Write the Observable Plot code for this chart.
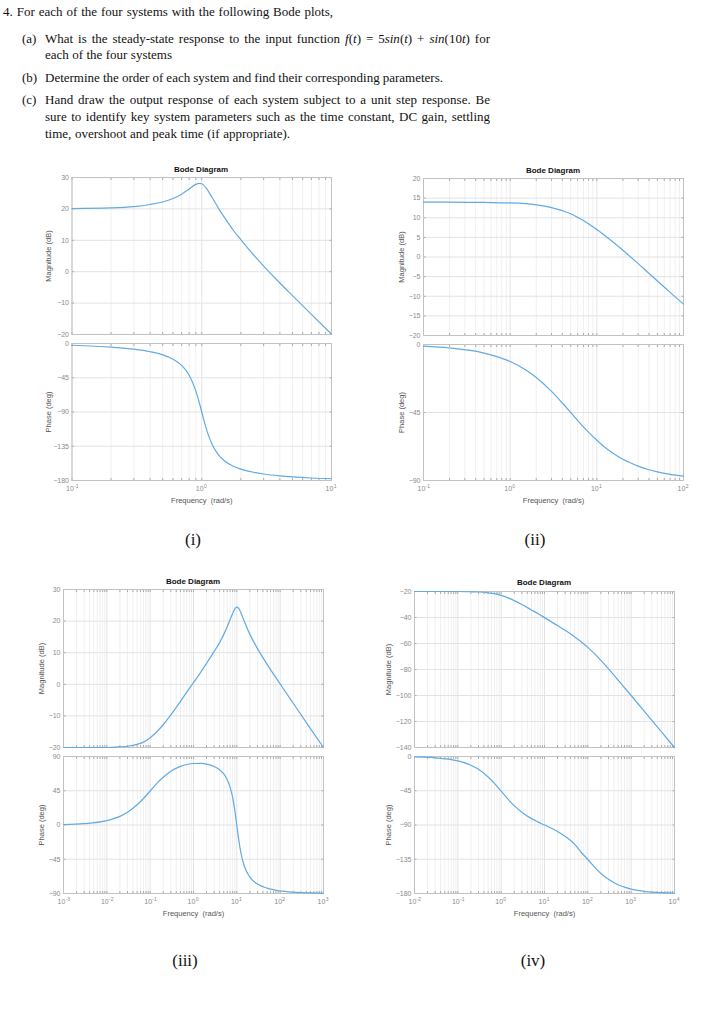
<!DOCTYPE html>
<html><head><meta charset="utf-8">
<script src="https://cdn.jsdelivr.net/npm/d3@7"></script>
<script src="https://cdn.jsdelivr.net/npm/@observablehq/plot@0.6"></script>
<style>
html,body{margin:0;padding:0;background:#fff;}
#page{position:relative;width:706px;height:1024px;overflow:hidden;font-family:"Liberation Serif","Times New Roman",serif;color:#111;}
.ln{position:absolute;font-size:13px;line-height:16px;height:16px;white-space:nowrap;}
.lab{position:absolute;font-size:13px;line-height:16px;height:16px;white-space:nowrap;}
.sub{position:absolute;font-size:17px;line-height:20px;transform:translate(-50%,-50%);white-space:nowrap;}
.ttl{position:absolute;font-family:"Liberation Sans",Arial,sans-serif;font-weight:bold;font-size:8px;line-height:9px;transform:translate(-50%,-50%);color:#111;white-space:nowrap;}
.plot{position:absolute;}
</style></head>
<body><div id="page"></div>
<script>
// ---------- data ----------
const w1   = [0.1,0.2,0.3,0.4,0.5,0.6,0.7,0.8,0.9,0.96,1.0,1.1,1.2,1.35,1.5,1.75,2,2.5,3,4,5,7,10];
const mag1 = [20.1,20.3,20.7,21.4,22.2,23.3,24.7,26.3,27.8,28.1,28.0,26.2,23.7,20.1,17.2,13.2,10.2,5.4,1.8,-3.6,-7.6,-13.6,-19.9];
const ph1  = [-2.3,-4.8,-7.5,-10.8,-14.9,-20.6,-28.8,-41.6,-62.2,-78.5,-90,-115.5,-132.5,-146.7,-154.4,-161.3,-165.1,-169.2,-171.5,-173.9,-175.2,-176.7,-177.7];

const w2   = [0.1,0.2,0.5,1,1.5,2,3,4,5,6,7,8,10,13,16,20,30,40,50,70,100];
const mag2 = [14.0,14.0,13.9,13.8,13.6,13.3,12.6,11.8,11.0,10.1,9.3,8.5,7.0,5.1,3.5,1.7,-1.7,-4.2,-6.1,-9.0,-12.0];
const ph2  = [-1.1,-2.3,-5.7,-11.3,-16.7,-21.8,-31.0,-38.7,-45,-50.2,-54.5,-58,-63.4,-69,-72.6,-76,-80.5,-82.9,-84.3,-85.9,-87.1];

const w3   = [0.001,0.003,0.01,0.02,0.03,0.05,0.07,0.1,0.15,0.2,0.3,0.5,0.7,1,1.5,2,3,4,5,6,7,8,9,10,11,12,13,15,20,30,50,100,200,500,1000];
const mag3 = [-20.0,-20.0,-20.0,-19.8,-19.6,-19.0,-18.3,-16.9,-14.7,-12.8,-9.7,-5.4,-2.5,0.5,4.0,6.6,10.4,13.2,15.8,18.2,20.5,22.4,23.9,24.4,24.0,23.1,21.9,19.8,15.8,11.3,6.3,0.1,-6.0,-14.0,-20.0];
const ph3  = [0.6,1.7,5.7,11.3,16.7,26.6,34.8,44.7,56.1,62.7,70.6,77.0,79.5,80.8,81.0,80.0,76.8,72.7,67.1,59.6,49.7,36.2,18.8,-0.6,-18.2,-31.9,-41.9,-54.6,-68.5,-77.5,-83.0,-86.6,-88.3,-89.3,-89.6];

const w4   = [0.01,0.03,0.1,0.2,0.3,0.5,0.7,1,1.5,2,3,5,7,10,20,30,50,70,100,150,200,300,500,1000,2000,5000,10000];
const mag4 = [-20.0,-20.0,-20.0,-20.2,-20.4,-21.0,-21.7,-23.0,-25.1,-27.0,-30.0,-34.2,-37.0,-40.1,-46.2,-49.9,-55.0,-58.6,-63.0,-68.6,-73.0,-79.5,-88.1,-100.0,-112.1,-128.0,-140.0];
const ph4  = [-0.6,-1.7,-5.8,-11.4,-16.9,-26.9,-35.4,-45.6,-57.2,-64.6,-73.3,-81.6,-85.9,-90.0,-98.5,-105.0,-115.4,-125.8,-135.3,-146.7,-153.7,-161.4,-168.6,-174.3,-177.1,-178.9,-179.4];

const xTicks1 = [0.1,1,10];
const xTicks2 = [0.1,1,10,100];
const xTicks3 = [0.001,0.01,0.1,1,10,100,1000];
const xTicks4 = [0.01,0.1,1,10,100,1000,10000];
const magTicks1 = [-20,-10,0,10,20,30];
const magTicks2 = [-20,-15,-10,-5,0,5,10,15,20];
const magTicks3 = [-20,-10,0,10,20,30];
const magTicks4 = [-140,-120,-100,-80,-60,-40,-20];
const phTicks1 = [-180,-135,-90,-45,0];
const phTicks2 = [-90,-45,0];
const phTicks3 = [-90,-45,0,45,90];
const phTicks4 = [-180,-135,-90,-45,0];

const titleText = "Bode Diagram";
const magLabel = "Magnitude (dB)";
const phLabel = "Phase (deg)";
const freqLabel = "Frequency  (rad/s)";
const subLabels = ["(i)","(ii)","(iii)","(iv)"];

// ---------- helpers ----------
const page = document.getElementById("page");
const expo = d => String(Math.round(Math.log10(d)));
const LINE = "#62aae2", GRID = "#e3e3e3", MINOR = "#f0f0f0", FRAME = "#c2c2c2", TICKC = "#8a8a8a", LABC = "#555";
const FONT = "Liberation Sans, Arial, sans-serif";

function panel(o) {
  const data = o.w.map((w, i) => ({w, v: o.v[i]}));
  const minor = [];
  for (let i = 0; i < o.xt.length - 1; i++) for (let k = 2; k <= 9; k++) minor.push(o.xt[i] * k);
  const allX = o.xt.concat(minor);
  const marks = [
    Plot.gridX(minor, {stroke: MINOR, strokeOpacity: 1}),
    Plot.gridX(o.xt, {stroke: GRID, strokeOpacity: 1}),
    Plot.gridY(o.yt, {stroke: GRID, strokeOpacity: 1}),
    Plot.axisX(allX, {anchor: "bottom", tickSize: -2, tickFormat: () => "", stroke: "#aaa", label: null}),
    Plot.axisX(allX, {anchor: "top", tickSize: -2, tickFormat: () => "", stroke: "#aaa", label: null}),
    Plot.axisY(o.yt, {anchor: "right", tickSize: -2.5, tickFormat: () => "", stroke: "#aaa", label: null}),
    Plot.axisY(o.yt, {anchor: "left", tickSize: 0, tickPadding: 3, fill: TICKC, fontSize: 7, label: null}),
    Plot.axisY(o.yt, {anchor: "left", tickSize: -2.5, tickFormat: () => "", stroke: "#aaa", fill: LABC, fontSize: 7.5,
      label: o.ylabel, labelAnchor: "center", labelArrow: "none", labelOffset: o.ylo}),
    Plot.frame({stroke: FRAME}),
    Plot.line(data, {x: "w", y: "v", stroke: LINE, strokeWidth: 1.2, curve: "monotone-x"})
  ];
  if (o.showX) {
    marks.push(Plot.axisX(o.xt, {anchor: "bottom", tickSize: 0, tickPadding: 6, dx: -2, fill: TICKC, fontSize: 7, tickFormat: () => "10", label: null}));
    marks.push(Plot.text(o.xt, {x: d => d, text: expo, frameAnchor: "bottom", textAnchor: "start", lineAnchor: "top",
      dx: 2.2, dy: 3.5, fill: TICKC, fontSize: 5}));
    marks.push(Plot.axisX(o.xt, {anchor: "bottom", tickSize: 0, tickFormat: () => "", fill: LABC, fontSize: 7.5,
      label: freqLabel, labelAnchor: "center", labelArrow: "none", labelOffset: o.xlo}));
  }
  const svg = Plot.plot({
    width: o.width, height: o.height,
    marginLeft: o.fx0 - o.left, marginRight: o.left + o.width - o.fx1,
    marginTop: o.fy0 - o.top, marginBottom: o.top + o.height - o.fy1,
    x: {type: "log", domain: o.xd},
    y: {type: "linear", domain: o.yd},
    style: {fontFamily: FONT, fontSize: "7px", background: "transparent"},
    marks
  });
  svg.classList.add("plot");
  svg.style.left = o.left + "px";
  svg.style.top = o.top + "px";
  page.appendChild(svg);
}

function div(cls, html, css) {
  const d = document.createElement("div");
  d.className = cls; d.innerHTML = html;
  Object.assign(d.style, css);
  page.appendChild(d);
  return d;
}
// a text line stretched (or squeezed) to a given width by word spacing
function line(html, left, top, width) {
  const d = div("ln", html, {left: left + "px", top: top + "px"});
  const spaces = (d.textContent.match(/ /g) || []).length;
  const natural = d.getBoundingClientRect().width;
  if (spaces) d.style.wordSpacing = ((width - natural) / spaces).toFixed(2) + "px";
}

// ---------- header text ----------
line("4. For each of the four systems with the following Bode plots,", 3, 4, 330);
div("lab", "(a)", {left: "22px", top: "31px"});
line("What is the steady-state response to the input function <i>f</i>(<i>t</i>) = 5<i>sin</i>(<i>t</i>) + <i>sin</i>(10<i>t</i>) for", 45, 31, 445);
line("each of the four systems", 45, 47, 127);
div("lab", "(b)", {left: "22px", top: "70px"});
line("Determine the order of each system and find their corresponding parameters.", 45, 70, 398);
div("lab", "(c)", {left: "22px", top: "92px"});
line("Hand draw the output response of each system subject to a unit step response. Be", 45, 92, 445);
line("sure to identify key system parameters such as the time constant, DC gain, settling", 45, 109, 445);
line("time, overshoot and peak time (if appropriate).", 45, 126, 245);

// ---------- panels ----------
const Q = [
  {L: 0,   fx0: 71.5, fx1: 331, my: [177, 334], py: [343, 480], top: 163, mid: 338, bot: 508, xt: xTicks1, xd: [0.1, 10],
   w: w1, mag: mag1, ph: ph1, mt: magTicks1, md: [-20, 30], pt: phTicks1, pd: [-180, 0], ttl: [201, 169], sub: [193, 540], ylo: 26},
  {L: 353, fx0: 423, fx1: 683, my: [178, 335], py: [344, 480], top: 163, mid: 339, bot: 508, xt: xTicks2, xd: [0.1, 100],
   w: w2, mag: mag2, ph: ph2, mt: magTicks2, md: [-20, 20], pt: phTicks2, pd: [-90, 0], ttl: [553, 170], sub: [535, 540], ylo: 25},
  {L: 0,   fx0: 63, fx1: 323, my: [589, 747], py: [756, 893], top: 575, mid: 751, bot: 922, xt: xTicks3, xd: [0.001, 1000],
   w: w3, mag: mag3, ph: ph3, mt: magTicks3, md: [-20, 30], pt: phTicks3, pd: [-90, 90], ttl: [193, 581], sub: [185, 961], ylo: 25},
  {L: 353, fx0: 414, fx1: 674, my: [591, 747], py: [756, 893], top: 575, mid: 751, bot: 922, xt: xTicks4, xd: [0.01, 10000],
   w: w4, mag: mag4, ph: ph4, mt: magTicks4, md: [-140, -20], pt: phTicks4, pd: [-180, 0], ttl: [544, 582], sub: [533, 961], ylo: 29}
];

Q.forEach((q, i) => {
  panel({left: q.L, top: q.top, width: 353, height: q.mid - q.top, fx0: q.fx0, fx1: q.fx1, fy0: q.my[0], fy1: q.my[1],
    xd: q.xd, xt: q.xt, yd: q.md, yt: q.mt, w: q.w, v: q.mag, ylabel: magLabel, ylo: q.ylo, showX: false});
  panel({left: q.L, top: q.mid, width: 353, height: q.bot - q.mid, fx0: q.fx0, fx1: q.fx1, fy0: q.py[0], fy1: q.py[1],
    xd: q.xd, xt: q.xt, yd: q.pd, yt: q.pt, w: q.w, v: q.ph, ylabel: phLabel, ylo: q.ylo, showX: true, xlo: 22});
  div("ttl", titleText, {left: q.ttl[0] + "px", top: q.ttl[1] + "px"});
  div("sub", subLabels[i], {left: q.sub[0] + "px", top: q.sub[1] + "px"});
});
</script>
</body></html>
